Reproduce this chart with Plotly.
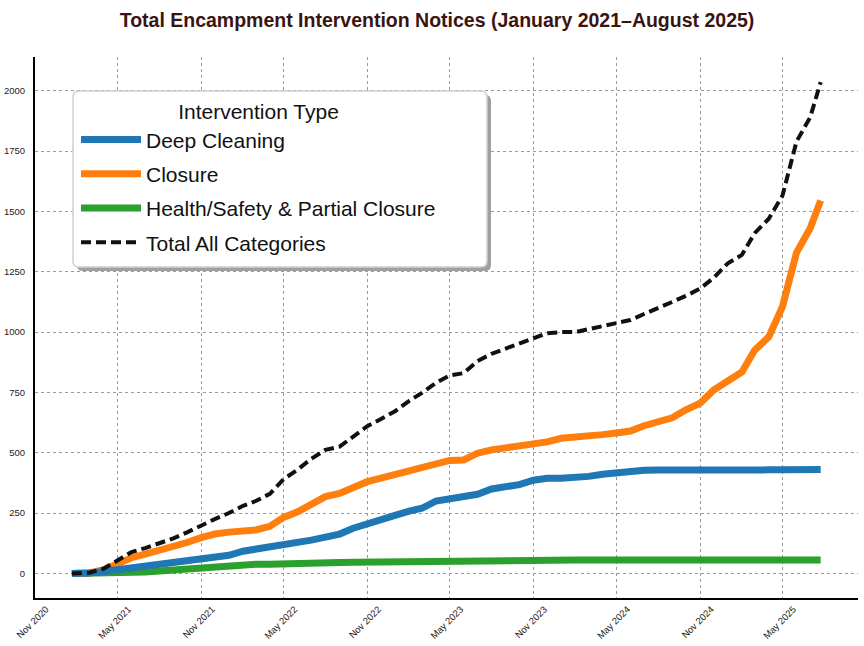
import plotly.graph_objects as go

# ---------------- data ----------------
dates = [
    "2021-01-21", "2021-02-01", "2021-03-01", "2021-04-01", "2021-05-01", "2021-06-01",
    "2021-07-01", "2021-08-01", "2021-09-01", "2021-10-01", "2021-11-01", "2021-12-01",
    "2022-01-01", "2022-02-01", "2022-03-01", "2022-04-01", "2022-05-01", "2022-06-01",
    "2022-07-01", "2022-08-01", "2022-09-01", "2022-10-01", "2022-11-01", "2022-12-01",
    "2023-01-01", "2023-02-01", "2023-03-01", "2023-04-01", "2023-05-01", "2023-06-01",
    "2023-07-01", "2023-08-01", "2023-09-01", "2023-10-01", "2023-11-01", "2023-12-01",
    "2024-01-01", "2024-02-01", "2024-03-01", "2024-04-01", "2024-05-01", "2024-06-01",
    "2024-07-01", "2024-08-01", "2024-09-01", "2024-10-01", "2024-11-01", "2024-12-01",
    "2025-01-01", "2025-02-01", "2025-03-01", "2025-04-01", "2025-05-01", "2025-06-01",
    "2025-07-01", "2025-07-24",
]
deep_cleaning = [
    0, 0, 2, 8, 16, 25, 33, 40, 46, 53, 61, 68,
    75, 92, 100, 108, 116, 130, 138, 150, 163, 187, 207, 225,
    240, 258, 270, 300, 311, 318, 328, 350, 360, 368, 386, 394,
    394, 395, 402, 411, 417, 423, 427, 428, 429, 429, 429, 429,
    429, 429, 429, 429, 429, 430, 430, 431,
]
closure = [
    0, 0, 2, 15, 38, 65, 80, 95, 110, 128, 148, 163,
    171, 172, 180, 195, 232, 255, 290, 318, 331, 355, 380, 395,
    410, 422, 442, 455, 468, 470, 498, 512, 520, 528, 539, 545,
    560, 563, 569, 575, 582, 590, 612, 630, 645, 678, 705, 760,
    801, 835, 925, 980, 1105, 1330, 1430, 1545,
]
health_safety = [
    0, 0, 0, 1, 2, 4, 6, 10, 14, 19, 24, 30,
    36, 38, 38, 38, 38, 39, 44, 44, 45, 46, 47, 48,
    48, 49, 50, 51, 52, 52, 53, 54, 55, 55, 55, 55,
    55, 55, 55, 55, 55, 55, 55, 55, 55, 55, 55, 55,
    55, 55, 55, 55, 55, 55, 55, 55,
]
total_all = [
    0, 0, 3, 20, 55, 88, 105, 125, 145, 170, 200, 225,
    250, 280, 300, 330, 390, 430, 475, 512, 525, 566, 610, 640,
    672, 715, 748, 790, 820, 830, 880, 910, 932, 950, 972, 995,
    1000, 1000, 1012, 1024, 1036, 1050, 1075, 1102, 1125, 1150, 1180, 1225,
    1285, 1320, 1410, 1470, 1565, 1790, 1890, 2036,
]
y_ticks = [0, 250, 500, 750, 1000, 1250, 1500, 1750, 2000]

# ---------------- layout geometry (pixels) ----------------
W, H = 864, 646
L, R, T, B = 35, 858, 57, 598   # plot area edges


def px_x(p):
    return (p - L) / (R - L)


def px_y(p):
    return (B - p) / (B - T)


def rounded_rect(x0, y0, x1, y1, r):
    rx = r / (R - L)
    ry = r / (B - T)
    a, b, c, d = px_x(x0), px_y(y1), px_x(x1), px_y(y0)  # b bottom, d top
    return (f"M {a+rx},{b} L {c-rx},{b} Q {c},{b} {c},{b+ry} "
            f"L {c},{d-ry} Q {c},{d} {c-rx},{d} L {a+rx},{d} "
            f"Q {a},{d} {a},{d-ry} L {a},{b+ry} Q {a},{b} {a+rx},{b} Z")


FONT = "Liberation Sans, Arial, sans-serif"

fig = go.Figure()

series = [
    ("Health/Safety & Partial Closure", health_safety, "#2ca02c", 3),
    ("Closure", closure, "#ff7f0e", 2),
    ("Deep Cleaning", deep_cleaning, "#1f77b4", 1),
]
for name, vals, color, rank in series:
    fig.add_trace(go.Scatter(
        x=dates, y=vals, mode="lines", name=name,
        line=dict(color=color, width=7),
        legendrank=rank, legendgroup=name,
    ))
fig.add_trace(go.Scatter(
    x=dates, y=total_all, mode="lines", name="Total All Categories",
    line=dict(color="#111111", width=4, dash="10px,5px"),
    legendrank=4, legendgroup="total",
))

shapes = [
    dict(type="path", xref="paper", yref="paper", layer="above",
         path=rounded_rect(77, 95, 491, 271, 6),
         fillcolor="#a0a0a0", line=dict(width=0)),
    dict(type="path", xref="paper", yref="paper", layer="above",
         path=rounded_rect(73, 91, 487, 267, 6),
         fillcolor="white", line=dict(color="#cfcfcf", width=1.5)),
]

fig.update_layout(
    width=W, height=H,
    margin=dict(l=L, r=W - R, t=T, b=H - B, autoexpand=False),
    paper_bgcolor="white", plot_bgcolor="white",
    font=dict(family=FONT, color="#222222"),
    title=dict(
        text="<b>Total Encampment Intervention Notices (January 2021–August 2025)</b>",
        x=px_x(437), xanchor="center", xref="paper",
        y=1 - 20 / H, yanchor="middle", yref="container",
        font=dict(size=19.5, color="#3a1410", family=FONT),
    ),
    shapes=shapes,
    showlegend=True,
    legend=dict(
        x=px_x(76), y=px_y(92), xanchor="left", yanchor="top",
        bgcolor="rgba(0,0,0,0)", borderwidth=0,
        font=dict(size=21, color="#111111", family=FONT),
        title=dict(text="Intervention Type", side="top center",
                   font=dict(size=21, color="#111111", family=FONT)),
        itemwidth=60, tracegroupgap=4,
        traceorder="grouped",
    ),
)

fig.update_xaxes(
    type="date", automargin=False,
    range=["2020-11-01", "2025-10-14"],
    tick0="2020-11-01", dtick="M6", tickformat="%b %Y",
    tickangle=-45, ticklabelshift=11, ticks="", ticklabelstandoff=0,
    tickfont=dict(size=9.5, color="#222222"),
    showgrid=True, gridcolor="#9a9a9a", griddash="dot", gridwidth=1,
    showline=True, linecolor="black", linewidth=2, zeroline=False,
)
fig.update_yaxes(
    automargin=False,
    range=[-102, 2140],
    tickvals=y_ticks, ticktext=[str(v) for v in y_ticks],
    ticks="", ticklabelstandoff=6,
    tickfont=dict(size=9.5, color="#222222"),
    showgrid=True, gridcolor="#9a9a9a", griddash="dot", gridwidth=1,
    showline=True, linecolor="black", linewidth=2, zeroline=False,
)

fig.write_html("out.html",
               config={"displayModeBar": False},
               post_script="document.body.style.margin='0px';")
